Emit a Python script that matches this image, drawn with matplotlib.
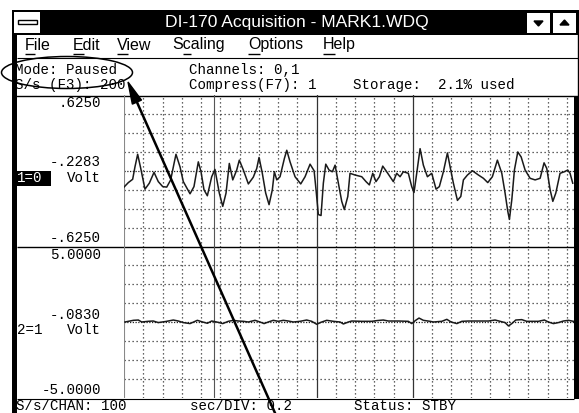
import matplotlib
matplotlib.use("Agg")
import matplotlib.pyplot as plt
from matplotlib.patches import Rectangle, Ellipse, Polygon
import numpy as np

# ---- data (seconds, volts) ----
# channel 0, upper trace
ch0_t = [0.000, 0.045, 0.090, 0.114, 0.142, 0.174, 0.218, 0.263, 0.312, 0.356,
         0.402, 0.444, 0.485, 0.520, 0.540, 0.582, 0.616, 0.686, 0.727, 0.772,
         0.800, 0.831, 0.866, 0.911, 0.945, 0.990, 1.026, 1.060, 1.094, 1.130,
         1.171, 1.198, 1.240, 1.292, 1.343, 1.379, 1.403, 1.437, 1.472, 1.507,
         1.541, 1.562, 1.587, 1.621, 1.666, 1.691, 1.725, 1.777, 1.836, 1.881,
         1.933, 1.975, 1.995, 2.019, 2.047, 2.071, 2.096, 2.130, 2.165, 2.193,
         2.227, 2.262, 2.289, 2.325, 2.348, 2.400, 2.470, 2.514, 2.549, 2.584,
         2.618, 2.653, 2.688, 2.729, 2.764, 2.798, 2.833, 2.868, 2.902, 2.954,
         2.989, 3.013, 3.041, 3.076, 3.110, 3.152, 3.197, 3.242, 3.276, 3.318,
         3.360, 3.388, 3.422, 3.464, 3.499, 3.526, 3.568, 3.620, 3.682, 3.734,
         3.779, 3.827, 3.879, 3.925, 3.959, 3.987, 4.004, 4.029, 4.056, 4.091,
         4.126, 4.167, 4.219, 4.271, 4.323, 4.364, 4.392, 4.427, 4.455, 4.486,
         4.530, 4.575, 4.610, 4.634, 4.662]
ch0_v = [-0.134, -0.097, -0.070, 0.032, 0.135, 0.019, -0.151, -0.102, -0.013, -0.089,
         -0.130, -0.134, -0.075, 0.060, 0.135, 0.032, -0.089, -0.189, -0.130, 0.073,
         -0.008, -0.156, -0.205, -0.049, 0.011, -0.183, -0.292, -0.183, 0.060, -0.075,
         0.006, 0.087, 0.006, -0.108, -0.053, 0.019, 0.109, -0.021, -0.183, -0.278,
         -0.156, -0.008, -0.075, -0.049, 0.100, 0.168, 0.073, -0.049, -0.108, -0.049,
         0.054, 0.000, -0.156, -0.359, -0.367, -0.102, 0.054, 0.006, -0.008, 0.046,
         -0.102, -0.251, -0.318, -0.211, -0.021, -0.035, -0.049, -0.089, -0.116, -0.021,
         -0.089, -0.049, 0.038, -0.008, -0.049, -0.089, -0.021, -0.049, -0.008, -0.021,
         -0.130, -0.178, -0.021, 0.181, 0.046, -0.049, -0.021, -0.151, -0.130, -0.008,
         0.146, 0.032, -0.102, -0.243, -0.211, -0.075, -0.035, 0.000, -0.035, -0.062,
         -0.097, -0.049, 0.087, -0.021, -0.183, -0.332, -0.399, -0.237, 0.006, 0.154,
         0.113, 0.006, -0.062, -0.075, -0.062, 0.065, 0.019, -0.156, -0.251, -0.183,
         -0.021, -0.008, 0.006, -0.021, -0.102]

# channel 1, lower trace
ch1_t = [0.010, 0.062, 0.097, 0.149, 0.184, 0.252, 0.304, 0.356, 0.444, 0.512,
         0.564, 0.616, 0.686, 0.762, 0.817, 0.866, 0.911, 0.963, 1.026, 1.084,
         1.136, 1.188, 1.240, 1.292, 1.361, 1.413, 1.455, 1.499, 1.551, 1.603,
         1.655, 1.707, 1.759, 1.829, 1.898, 1.950, 2.002, 2.054, 2.106, 2.175,
         2.245, 2.279, 2.331, 2.366, 2.470, 2.574, 2.626, 2.694, 2.746, 2.850,
         2.954, 2.989, 3.030, 3.065, 3.110, 3.180, 3.214, 3.302, 3.354, 3.398,
         3.458, 3.510, 3.579, 3.682, 3.786, 3.855, 3.907, 3.959, 3.994, 4.029,
         4.070, 4.132, 4.184, 4.305, 4.367, 4.409, 4.461, 4.513, 4.565, 4.617,
         4.669]
ch1_v = [0.000, 0.065, 0.110, 0.130, 0.000, 0.045, 0.065, -0.039, 0.045, 0.130,
         0.065, -0.039, -0.104, 0.110, 0.000, -0.084, 0.065, 0.000, -0.104, 0.045,
         0.110, 0.065, 0.045, 0.000, 0.110, 0.000, -0.104, 0.000, 0.110, 0.045,
         0.110, 0.065, 0.000, 0.045, 0.130, 0.045, -0.149, 0.000, 0.110, 0.045,
         0.000, -0.130, 0.000, 0.065, 0.045, 0.045, 0.091, 0.130, 0.065, 0.065,
         0.045, -0.104, 0.110, 0.259, 0.110, 0.045, 0.000, 0.045, 0.175, 0.000,
         -0.104, 0.045, 0.065, 0.065, 0.065, 0.130, 0.045, -0.039, -0.259, -0.104,
         0.130, 0.156, 0.045, 0.045, 0.130, 0.000, -0.104, -0.039, 0.065, 0.110,
         0.045]

sec_per_div = 0.2
span_sec = 4.675
ch0_range = (-0.625, 0.625)
ch1_range = (-5.0, 5.0)
cursor_t = 0.93

ch0_labels = [".6250", "-.2283", "Volt", "-.6250"]
ch1_labels = ["5.0000", "-.0830", "Volt", "-5.0000"]

title = "DI-170 Acquisition - MARK1.WDQ"
menu_items = [("File", 0), ("Edit", 0), ("View", 0), ("Scaling", 1), ("Options", 0), ("Help", 0)]

# ---- figure, pixel-coordinate background ----
W, H = 579, 413
MONO = "Liberation Mono"
SANS = "Liberation Sans"
fs_mono = 10.2

fig = plt.figure(figsize=(W / 100, H / 100), dpi=100)
fig.patch.set_facecolor("white")
bg = fig.add_axes([0, 0, 1, 1])
bg.set_xlim(0, W)
bg.set_ylim(H, 0)
bg.axis("off")


def rect(x0, y0, x1, y1, fc="black", ec="none", lw=0):
    bg.add_patch(Rectangle((x0, y0), x1 - x0, y1 - y0, facecolor=fc, edgecolor=ec, lw=lw))


def hline(y, x0, x1, lw=1.0, c="black"):
    bg.plot([x0, x1], [y, y], color=c, lw=lw, solid_capstyle="butt")


# window frame and title bar
rect(12, 10, 17, H)
rect(12, 10, W, 35)
rect(14, 12, 40, 33, fc="white")
rect(18, 20, 37, 24, fc="white", ec="black", lw=1)
bg.text(297, 23, title, color="white", ha="center", va="center", fontsize=12.6, family=SANS)

rect(527, 13, 550, 33, fc="white")
rect(553, 13, 576, 33, fc="white")
bg.add_patch(Polygon([[534, 21], [543, 21], [538.5, 26]], closed=True, color="black"))
bg.add_patch(Polygon([[560, 25], [569, 25], [564.5, 20]], closed=True, color="black"))

bg.plot([578, 578], [35, 96], color="black", lw=1)
rect(574, 96, W, 399)

# menu bar
menu_x = [25, 73, 117, 172, 248, 323]
fig.canvas.draw()
rend = fig.canvas.get_renderer()
for (label, ul), x in zip(menu_items, menu_x):
    bg.text(x, 45, label, ha="left", va="center", fontsize=11.5, family=SANS)
    tmp = bg.text(x, 45, label[:ul + 1], fontsize=11.5, family=SANS)
    w_to = tmp.get_window_extent(rend).width
    tmp.set_text(label[:ul])
    w_pre = tmp.get_window_extent(rend).width if ul > 0 else 0
    tmp.remove()
    hline(53.5, x + w_pre, x + w_to, lw=1)
hline(58, 17, 578, lw=0.8)

# status rows
status_top = [(15, 70, "Mode: Paused"), (189, 70, "Channels: 0,1"),
              (15, 85, "S/s (F3): 200"), (189, 85, "Compress(F7): 1"),
              (353, 85, "Storage:  2.1% used")]
for x, y, s in status_top:
    bg.text(x, y, s, ha="left", va="center", fontsize=fs_mono, family=MONO)
hline(96, 12, 578, lw=1)

status_bottom = [(16, 406, "S/s/CHAN: 100"), (190, 406, "sec/DIV: 0.2"),
                 (354, 406, "Status: STBY")]
for x, y, s in status_bottom:
    bg.text(x, y, s, ha="left", va="center", fontsize=fs_mono, family=MONO)

# panel labels
for y, s in zip([103, 162, 178, 238], ch0_labels):
    bg.text(101, y, s, ha="right", va="center", fontsize=fs_mono, family=MONO)
for y, s in zip([255, 315, 330, 390], ch1_labels):
    bg.text(101, y, s, ha="right", va="center", fontsize=fs_mono, family=MONO)
rect(15, 171, 51, 186)
bg.text(17, 178.5, "1=0", color="white", ha="left", va="center", fontsize=fs_mono, family=MONO)
bg.text(17, 330, "2=1", ha="left", va="center", fontsize=fs_mono, family=MONO)

hline(247, 17, 574, lw=1)
hline(399, 17, 574, lw=0.8)


# ---- the two trace panels ----
def panel(y0, y1, t, v, vrange):
    ax = fig.add_axes([124 / W, 1 - y1 / H, (574 - 124) / W, (y1 - y0) / H])
    ax.set_xlim(0, span_sec)
    ax.set_ylim(*vrange)
    ax.patch.set_alpha(0)
    ax.axis("off")
    vdiv = (vrange[1] - vrange[0]) / 8
    for k in range(1, 24):
        if k in (10, 15):
            ax.axvline(k * sec_per_div, color="#333333", lw=0.9)
        else:
            ax.axvline(k * sec_per_div, color="#333333", lw=0.9, ls=(0, (1, 2.2)))
    for j in range(-3, 4):
        if j == 0:
            ax.axhline(0, color="#222222", lw=0.9, ls=(0, (1, 1.2)))
        else:
            ax.axhline(j * vdiv, color="#333333", lw=0.9, ls=(0, (1, 2.2)))
    ax.axvline(0, color="#888888", lw=0.8)
    ax.axvline(cursor_t, color="#555555", lw=0.8)
    ax.plot(t, v, color="#1a1a1a", lw=1.1)
    return ax


panel(94.5, 247, ch0_t, ch0_v, ch0_range)
panel(246, 398, ch1_t, ch1_v, ch1_range)

# ---- hand-drawn annotation: ellipse and arrow ----
top = fig.add_axes([0, 0, 1, 1])
top.set_xlim(0, W)
top.set_ylim(H, 0)
top.axis("off")
top.patch.set_alpha(0)
top.add_patch(Ellipse((67, 72.5), 131, 32, fill=False, ec="black", lw=1.1))
tip = np.array([128.0, 82.0])
tail = np.array([275.0, 413.0])
u = (tail - tip) / np.linalg.norm(tail - tip)
perp = np.array([-u[1], u[0]])
base = tip + 22 * u
top.plot([base[0], tail[0]], [base[1], tail[1]], color="black", lw=1.8)
top.add_patch(Polygon([tip, base + 5 * perp, base - 5 * perp], closed=True, color="black"))

fig.savefig("out.png", dpi=100)
